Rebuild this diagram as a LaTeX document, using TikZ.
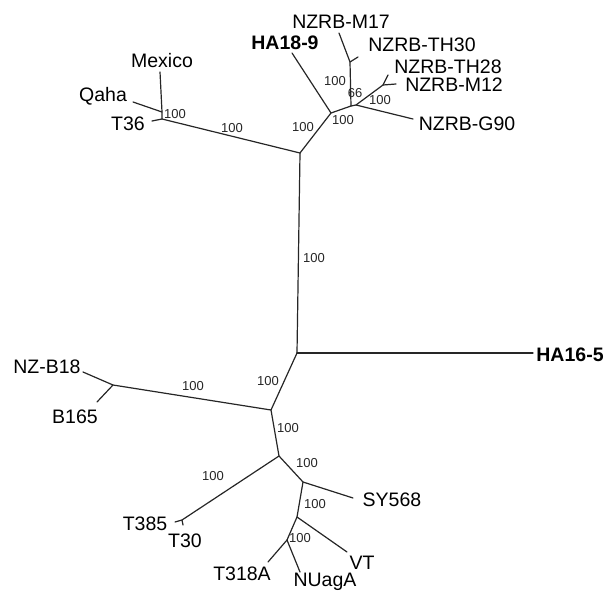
\documentclass[tikz,border=0pt]{standalone}
\usepackage{fontspec}
\setmainfont{Liberation Sans}
\begin{document}
\begin{tikzpicture}[x=1pt,y=-1pt,
  br/.style={draw=black!85, line width=1.2pt, line cap=round, line join=round},
  leaf/.style={inner sep=0pt, anchor=base, font=\fontsize{19.5}{20}\selectfont},
  bleaf/.style={leaf, font=\fontsize{19.5}{20}\selectfont\bfseries},
  bs/.style={inner sep=0pt, anchor=base, font=\fontsize{13}{14}\selectfont, text=black!85}]
\useasboundingbox (0,0) rectangle (609,591);
% internal nodes
\coordinate (C) at (297,353);
\coordinate (T) at (300,153);
\coordinate (Q1) at (162,112);
\coordinate (Q2) at (162,119);
\coordinate (U) at (331,113);
\coordinate (V) at (351,106);
\coordinate (W) at (356,105);
\coordinate (K) at (350,62);
\coordinate (X) at (383,85);
\coordinate (D) at (271,410);
\coordinate (E) at (113,385);
\coordinate (F) at (279,456);
\coordinate (G) at (182,520);
\coordinate (H) at (303,482);
\coordinate (I) at (297,517);
\coordinate (J) at (287,540);
% leaf ends
\coordinate (eHA16) at (533,353);
\coordinate (eMex) at (160,72);
\coordinate (eQaha) at (133,102);
\coordinate (eT36) at (152,121);
\coordinate (eHA18) at (292,53);
\coordinate (eM17) at (339,33);
\coordinate (eTH30) at (358,57);
\coordinate (eTH28) at (388,75);
\coordinate (eM12) at (396,84);
\coordinate (eG90) at (413,119);
\coordinate (eNZB) at (83,372);
\coordinate (eB165) at (97,402);
\coordinate (eT385) at (175,522);
\coordinate (eT30) at (183,525);
\coordinate (eSY) at (353,498);
\coordinate (eVT) at (347,552);
\coordinate (eT318) at (268,562);
\coordinate (eNU) at (300,572);
% branches
\draw[br] (C) -- (T);
\draw[br] (C) -- (eHA16);
\draw[br] (T) -- (Q2) -- (Q1) -- (eMex);
\draw[br] (Q1) -- (eQaha);
\draw[br] (Q2) -- (eT36);
\draw[br] (T) -- (U) -- (eHA18);
\draw[br] (U) -- (V) -- (K) -- (eM17);
\draw[br] (K) -- (eTH30);
\draw[br] (V) -- (W) -- (X) -- (eTH28);
\draw[br] (X) -- (eM12);
\draw[br] (W) -- (eG90);
\draw[br] (C) -- (D) -- (E) -- (eNZB);
\draw[br] (E) -- (eB165);
\draw[br] (D) -- (F) -- (G) -- (eT385);
\draw[br] (G) -- (eT30);
\draw[br] (F) -- (H) -- (eSY);
\draw[br] (H) -- (I) -- (eVT);
\draw[br] (I) -- (J) -- (eT318);
\draw[br] (J) -- (eNU);
% leaf labels
\node[leaf] (lMex) at (162,68) {Mexico};
\node[leaf] (lQaha) at (103,102) {Qaha};
\node[leaf] (lT36) at (128,130) {T36};
\node[bleaf] (lHA18) at (285,50) {HA18-9};
\node[leaf] (lM17) at (341,29) {NZRB-M17};
\node[leaf] (lTH30) at (422,52) {NZRB-TH30};
\node[leaf] (lTH28) at (448,74) {NZRB-TH28};
\node[leaf] (lM12) at (454,92) {NZRB-M12};
\node[leaf] (lG90) at (467,130) {NZRB-G90};
\node[bleaf] (lHA16) at (570,361) {HA16-5};
\node[leaf] (lNZB) at (47,373) {NZ-B18};
\node[leaf] (lB165) at (75,423) {B165};
\node[leaf] (lT385) at (145,530) {T385};
\node[leaf] (lT30) at (185,547) {T30};
\node[leaf] (lSY) at (392,506) {SY568};
\node[leaf] (lVT) at (362,569) {VT};
\node[leaf] (lT318) at (242,580) {T318A};
\node[leaf] (lNU) at (325,586) {NUagA};
% bootstrap values
\node[bs] (b1) at (314,262) {100};
\node[bs] (b2) at (175,118) {100};
\node[bs] (b3) at (232,132) {100};
\node[bs] (b4) at (303,131) {100};
\node[bs] (b5) at (343,124) {100};
\node[bs] (b6) at (335,85) {100};
\node[bs] (b7) at (355,98) {66};
\node[bs] (b8) at (380,104) {100};
\node[bs] (b9) at (268,385) {100};
\node[bs] (b10) at (193,390) {100};
\node[bs] (b11) at (288,432) {100};
\node[bs] (b12) at (213,480) {100};
\node[bs] (b13) at (307,467) {100};
\node[bs] (b14) at (315,508) {100};
\node[bs] (b15) at (300,542) {100};
\end{tikzpicture}
\end{document}
